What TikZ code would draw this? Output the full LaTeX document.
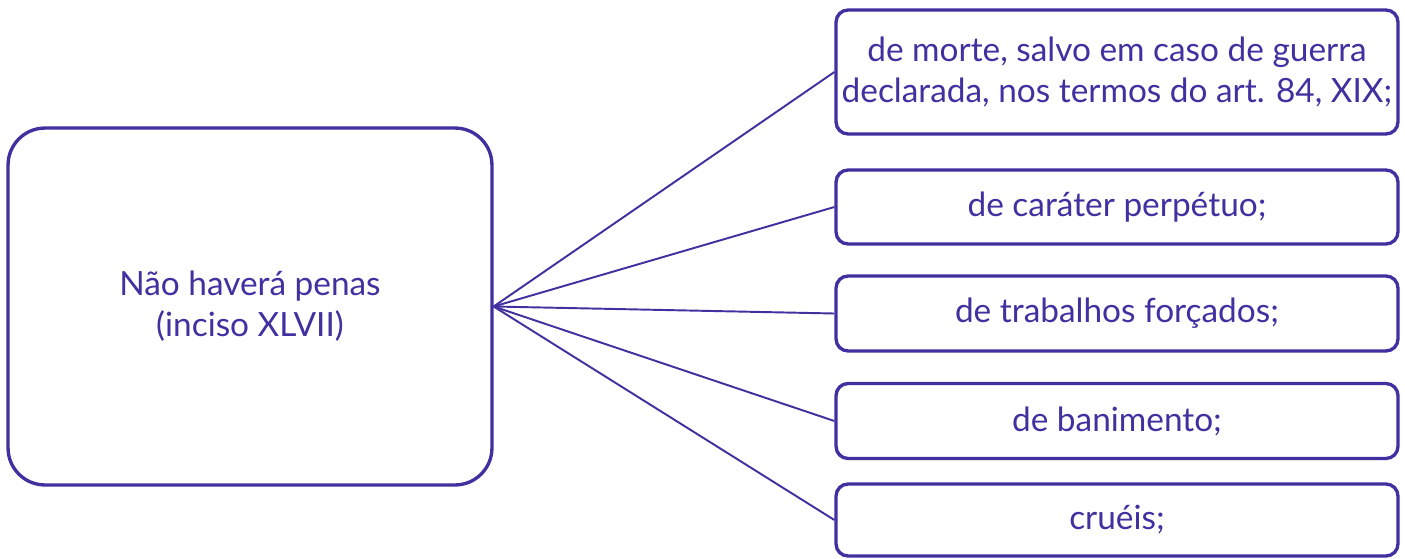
\documentclass[tikz,border=0pt]{standalone}
\usepackage{fontspec}
\setmainfont{Lato}
\definecolor{roxo}{RGB}{64,48,160}
\begin{document}
\begin{tikzpicture}[x=0.02cm, y=-0.02cm,
    caixa/.style={draw=roxo, line width=1.9pt, text=roxo, align=center, inner sep=0pt, minimum width=11.24cm, rounded corners=0.24cm, font=\fontsize{19}{23.5}\selectfont},
    ligacao/.style={draw=roxo, line width=1.1pt}]
      \useasboundingbox (0,0) rectangle (1405,558);
      % Nodes
      \node[draw=roxo, line width=1.9pt, text=roxo, align=center, inner sep=0pt, minimum width=9.68cm, minimum height=7.14cm, rounded corners=0.74cm, font=\fontsize{19}{23.5}\selectfont] at (250, 306.5) (penas) {Não haverá penas\\(inciso XLVII)};

      \node[caixa, minimum height=2.48cm] at (1117, 72) (morte) {de morte, salvo em caso de guerra\\declarada, nos termos do art. 84, XIX;};
      \node[caixa, minimum height=1.48cm] at (1117, 207) (perpetuo) {de caráter perpétuo;};
      \node[caixa, minimum height=1.5cm] at (1117, 313.5) (forcados) {de trabalhos forçados;};
      \node[caixa, minimum height=1.5cm] at (1117, 421) (banimento) {de banimento;};
      \node[caixa, minimum height=1.44cm] at (1117, 520) (crueis) {cruéis;};

      \draw[ligacao] (penas.east) -- (morte.west);
      \draw[ligacao] (penas.east) -- (perpetuo.west);
      \draw[ligacao] (penas.east) -- (forcados.west);
      \draw[ligacao] (penas.east) -- (banimento.west);
      \draw[ligacao] (penas.east) -- (crueis.west);
    \end{tikzpicture}
\end{document}
